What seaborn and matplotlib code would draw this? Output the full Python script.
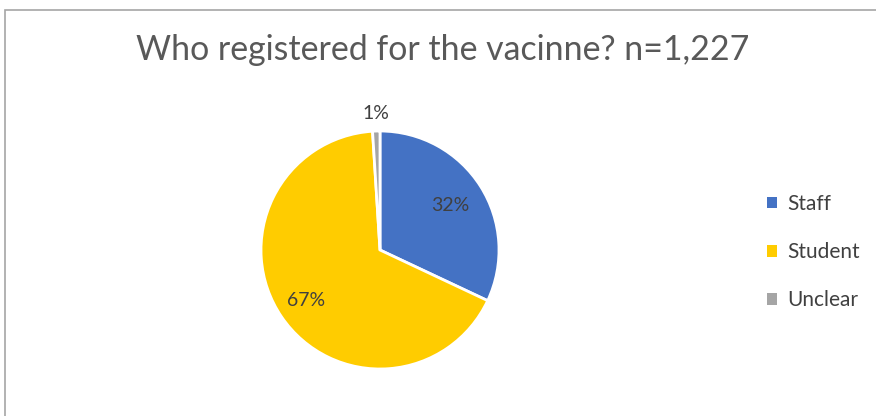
import matplotlib
matplotlib.use("Agg")
import matplotlib.pyplot as plt
from matplotlib.patches import Rectangle, Patch
import numpy as np
import seaborn as sns

# data
groups = ["Staff", "Student", "Unclear"]
shares = [32, 67, 1]          # percent of n=1,227
title = "Who registered for the vacinne? n=1,227"

sns.set_theme(style="white")
plt.rcParams['font.family'] = ['Lato', 'DejaVu Sans']
colors = ["#4472C4", "#FFCC00", "#A5A5A5"]
text_col = "#404040"

W, H = 876, 416
fig = plt.figure(figsize=(W / 100, H / 100), dpi=100)

# chart border (only left and top visible in the crop)
fig.patches.append(Rectangle((4.5 / W, -0.1), 1.2, (H - 9.5) / H + 0.1,
                             transform=fig.transFigure, fill=False,
                             edgecolor="#A6A6A6", linewidth=1.2))

cx, cy, r = 380, 250, 119
ax = fig.add_axes([(cx - r) / W, (H - cy - r) / H, 2 * r / W, 2 * r / H])
wedges, _ = ax.pie(shares, colors=colors, startangle=90, counterclock=False,
                   wedgeprops=dict(edgecolor="white", linewidth=2))
ax.set_xlim(-1, 1)
ax.set_ylim(-1, 1)
ax.set_aspect("equal")

# percentage labels, inside for big slices, outside for the tiny one
dists = [0.7, 0.75, 1.15]
for w, s, d in zip(wedges, shares, dists):
    ang = np.deg2rad((w.theta1 + w.theta2) / 2)
    ax.text(d * np.cos(ang), d * np.sin(ang), f"{s}%", ha="center", va="center",
            fontsize=14, color=text_col)

fig.text(443 / W, 1 - 50 / H, title, ha="center", va="center",
         fontsize=24.4, color="#595959")

handles = [Patch(facecolor=c, edgecolor="none") for c in colors]
fig.legend(handles, groups, loc="center left", bbox_to_anchor=(748 / W, 1 - 252 / H),
           frameon=False, fontsize=15, labelcolor=text_col,
           handlelength=0.5, handleheight=0.5, handletextpad=0.5, labelspacing=1.35)

fig.savefig("out.png", dpi=100)
